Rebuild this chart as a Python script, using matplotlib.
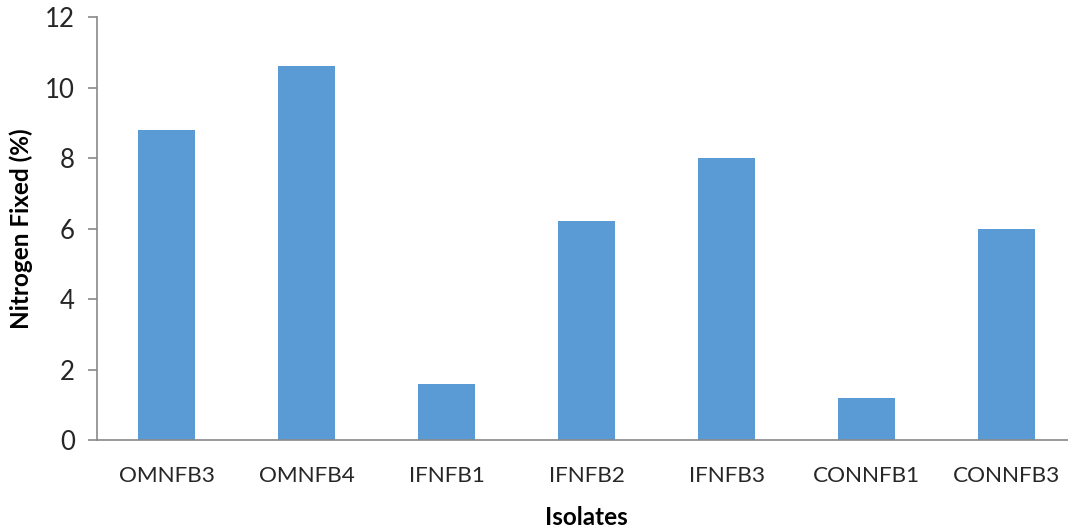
import matplotlib
matplotlib.use("Agg")
import matplotlib.pyplot as plt
import numpy as np

isolates = ["OMNFB3", "OMNFB4", "IFNFB1", "IFNFB2", "IFNFB3", "CONNFB1", "CONNFB3"]
nitrogen_fixed = [8.8, 10.6, 1.6, 6.2, 8.0, 1.2, 6.0]
y_ticks = [0, 2, 4, 6, 8, 10, 12]

plt.rcParams['font.family'] = ['Lato', 'DejaVu Sans']

fig = plt.figure(figsize=(10.68, 5.27), dpi=100)
ax = fig.add_axes([0.0904, 0.165, 0.9177, 0.8027])

x = np.arange(len(isolates))
ax.bar(x, nitrogen_fixed, width=0.41, color="#5B9BD5", zorder=2)

ax.set_xlim(-0.5, len(isolates) - 0.5)
ax.set_ylim(0, 12)
ax.set_yticks(y_ticks)
ax.set_xticks(x)
ax.set_xticklabels(isolates)

axis_grey = "#898989"
for side in ["top", "right"]:
    ax.spines[side].set_visible(False)
ax.spines["left"].set_color(axis_grey)
ax.spines["bottom"].set_color(axis_grey)
ax.spines["left"].set_linewidth(1.2)
ax.spines["bottom"].set_linewidth(1.2)

ax.tick_params(axis="y", length=6.5, width=1.2, color=axis_grey, pad=9,
               labelsize=18.5, labelcolor="#262626")
ax.tick_params(axis="x", length=0, pad=19, labelsize=16.2, labelcolor="#262626")

ax.set_ylabel("Nitrogen Fixed (%)", fontsize=17.5, fontweight="bold", labelpad=9)
ax.set_xlabel("Isolates", fontsize=17.5, fontweight="bold", labelpad=14)

fig.savefig("out.png", dpi=100)
